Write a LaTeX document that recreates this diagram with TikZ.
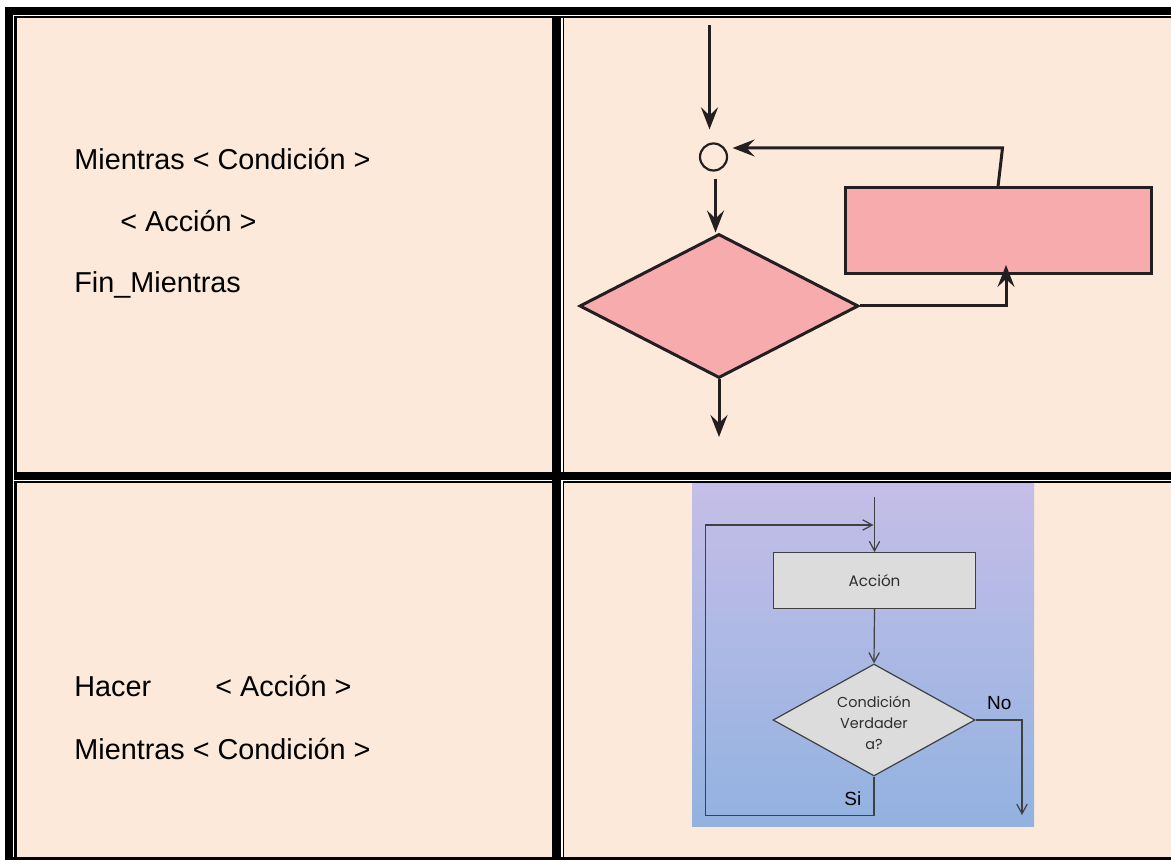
\documentclass[tikz,border=0pt]{standalone}
\usepackage{fontspec}
\setmainfont{Liberation Sans}
\newfontfamily\geo{Poppins}
\usetikzlibrary{shapes.geometric,arrows.meta}
\definecolor{cellbg}{RGB}{252,233,218}
\definecolor{rose}{RGB}{247,171,173}
\definecolor{ink}{RGB}{35,31,32}
\definecolor{gline}{RGB}{64,64,64}
\definecolor{gtextc}{RGB}{45,45,45}
\definecolor{gfill}{RGB}{220,220,220}
\definecolor{lavtop}{RGB}{197,190,232}
\definecolor{lavbot}{RGB}{146,178,224}
\tikzset{
  heavy/.style={draw=ink, line width=1.5pt},
  arr/.style={heavy, -{Stealth[length=11pt,width=8.5pt,inset=4pt]}},
  fine/.style={draw=gline, line width=0.6pt},
  oarr/.style={fine, -{Straight Barb[length=4.8pt,width=5.2pt]}},
  code/.style={anchor=base west, inner sep=0pt, font=\fontsize{14.4pt}{17pt}\selectfont},
  gtext/.style={text=gtextc, font=\geo\fontsize{7.6pt}{10.5pt}\selectfont},
  dtext/.style={text=gtextc, font=\geo\fontsize{7.2pt}{10.6pt}\selectfont},
  lbl/.style={anchor=base west, inner sep=0pt, font=\fontsize{9.5pt}{11pt}\selectfont},
}
\begin{document}
\begin{tikzpicture}[x=0.5pt,y=-0.5pt]
\useasboundingbox (0,0) rectangle (1171,860);
\fill[white] (0,0) rectangle (1171,860);

% table rules: thick outer lines, thin inner lines
\fill[black] (5,6.7) rectangle (1171,14.7);
\fill[black] (5,6.7) rectangle (13,860);
\fill[black] (5,857) rectangle (1171,860);
\fill[black] (14.3,16) rectangle (1171,18.3);
\fill[black] (14.3,16) rectangle (16.7,472);
\fill[black] (14.3,481) rectangle (16.7,857);
\fill[black] (552,16) rectangle (560.7,857);
\fill[black] (562.7,16) rectangle (564,472);
\fill[black] (562.7,481) rectangle (564,857);
\fill[black] (14.3,472) rectangle (1171,480);
\fill[black] (14.3,481) rectangle (552,483);
\fill[black] (562.7,481) rectangle (1171,483);

% cells
\fill[cellbg] (16.7,18.3) rectangle (552,472);
\fill[cellbg] (564,18.3) rectangle (1171,472);
\fill[cellbg] (16.7,483) rectangle (552,857);
\fill[cellbg] (564,483) rectangle (1171,857);

% pseudocode
\node[code] (w1) at (74,169.3) {Mientras < Condición >};
\node[code] (w2) at (120,231.7) {< Acción >};
\node[code] (w3) at (74,292.7) {Fin\_Mientras};
\node[code] (h1) at (74,696.7) {Hacer};
\node[code] (h2) at (215,696.7) {< Acción >};
\node[code] (h3) at (74,759) {Mientras < Condición >};

% while loop chart
\node[draw=ink, line width=1.1pt, circle, minimum size=13.5pt, inner sep=0pt] (c) at (713.5,157) {};
\node[heavy, fill=rose, diamond, minimum width=139.5pt, minimum height=72pt, inner sep=0pt] (d) at (719,306) {};
\node[heavy, fill=rose, minimum width=153pt, minimum height=43pt, inner sep=0pt] (act) at (998,231) {};
\coordinate (tin) at (709.5,25);
\coordinate (dout) at (719,437);
\coordinate (upin) at (1006,265);
\coordinate (bend) at (1002.5,148);
\coordinate (back) at (732.6,148);
\draw[arr, shorten >=6.5pt] (tin) -- (tin |- c.north);
\draw[arr] ([xshift=1pt,yshift=-3.5pt]c.south) -- ([xshift=1pt]c.south |- d.north);
\draw[arr] (d.south) -- (dout);
\draw[arr] (d.east) -| (upin);
\draw[arr] (act.north) -- (bend) -- (back);

% do-while chart
\shade[top color=lavtop, bottom color=lavbot] (692,483) rectangle (1034,826);
\node[fine, fill=gfill, gtext, minimum width=101.2pt, minimum height=27.8pt, inner sep=0pt] (a2) at (874.5,580.5) {Acción};
\node[fine, fill=gfill, diamond, minimum width=101pt, minimum height=56pt, inner sep=0pt] (d2) at (874,720) {};
\node[dtext, align=center, inner sep=0pt] (d2t) at (874,723) {Condición\\Verdader\\a?};
\coordinate (bin) at (874.5,497);
\coordinate (lb) at (705.7,815.7);
\coordinate (lt) at (705.7,525);
\coordinate (lj) at (873.5,525);
\coordinate (nout) at (1022,815);
\draw[oarr] (bin) -- (a2.north);
\draw[oarr] (a2.south) -- (d2.north);
\draw[oarr] (d2.south) |- (lb) -- (lt) -- (lj);
\draw[oarr] (d2.east) -| (nout);
\node[lbl] (no) at (986.7,709.3) {No};
\node[lbl] (si) at (844,805) {Si};
\end{tikzpicture}
\end{document}
